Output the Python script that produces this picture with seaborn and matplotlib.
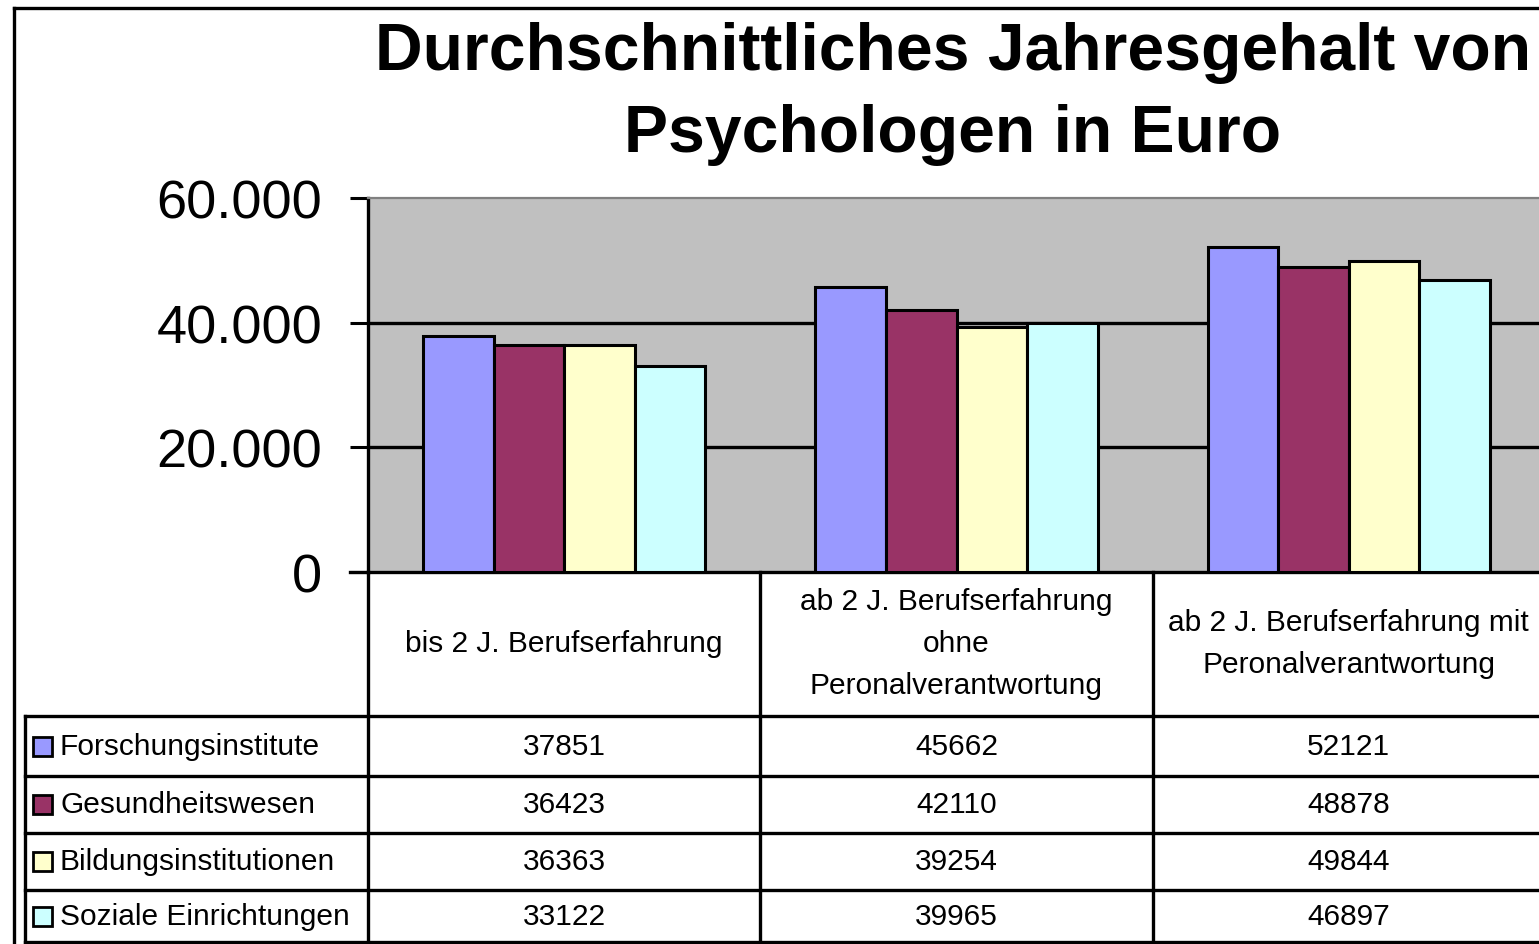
import numpy as np
import pandas as pd
import seaborn as sns
import matplotlib
matplotlib.use("Agg")
import matplotlib.pyplot as plt
from matplotlib.lines import Line2D
from matplotlib.patches import Rectangle

# ---------------- data ----------------
title = "Durchschnittliches Jahresgehalt von\nPsychologen in Euro"
categories = [
    "bis 2 J. Berufserfahrung",
    "ab 2 J. Berufserfahrung\nohne\nPeronalverantwortung",
    "ab 2 J. Berufserfahrung mit\nPeronalverantwortung",
]
series = ["Forschungsinstitute", "Gesundheitswesen", "Bildungsinstitutionen", "Soziale Einrichtungen"]
forschung = [37851, 45662, 52121]
gesundheit = [36423, 42110, 48878]
bildung = [36363, 39254, 49844]
sozial = [33122, 39965, 46897]
colors = ["#9999FF", "#993366", "#FFFFCC", "#CCFFFF"]
yticks = [0, 20000, 40000, 60000]
ytick_labels = ["0", "20.000", "40.000", "60.000"]

values = [forschung, gesundheit, bildung, sozial]
df = pd.DataFrame(
    [(c, s, v[i]) for s, v in zip(series, values) for i, c in enumerate(categories)],
    columns=["Kategorie", "Serie", "Wert"],
)

# ---------------- layout ----------------
W, H = 1539, 945
FONT = "Liberation Sans"
sns.set_theme(style="white")
plt.rcParams["font.family"] = [FONT, "DejaVu Sans"]
plt.rcParams["text.color"] = "black"
plt.rcParams["ytick.color"] = "black"
plt.rcParams["xtick.color"] = "black"
plt.rcParams["axes.labelcolor"] = "black"

fig = plt.figure(figsize=(W / 100, H / 100), dpi=100)
fig.patch.set_facecolor("white")

ax_left, ax_right, ax_top, ax_bot = 368, 1545, 199, 573
ax = fig.add_axes([ax_left / W, 1 - ax_bot / H, (ax_right - ax_left) / W, (ax_bot - ax_top) / H])
ax.set_facecolor("#C0C0C0")

sns.barplot(data=df, x="Kategorie", y="Wert", hue="Serie", order=categories, hue_order=series,
            palette=colors, saturation=1, width=0.72, gap=0, edgecolor="black", linewidth=2.2,
            errorbar=None, legend=False, ax=ax, zorder=3)

ax.set_xlim(-0.5, len(categories) - 0.5)
ax.set_ylim(yticks[0], yticks[-1])
ax.set_yticks(yticks)
ax.set_yticklabels(ytick_labels, fontsize=39, family=FONT, color="black")
ax.set_xticks([])
ax.set_xlabel("")
ax.set_ylabel("")
ax.tick_params(axis="y", direction="out", length=13, width=2.2, color="black", pad=20, left=True,
               labelcolor="black")
for yv in yticks[1:-1]:
    ax.axhline(yv, color="black", lw=2.4, zorder=1)

for side in ["left", "bottom"]:
    ax.spines[side].set_color("black")
    ax.spines[side].set_linewidth(2.4)
ax.spines["top"].set_color("#808080")
ax.spines["top"].set_linewidth(1.6)
ax.spines["right"].set_visible(False)


def px_line(x0, y0, x1, y1, lw=2.4, color="black"):
    fig.add_artist(Line2D([x0 / W, x1 / W], [1 - y0 / H, 1 - y1 / H], transform=fig.transFigure,
                          color=color, lw=lw, solid_capstyle="projecting"))


# ---------------- title ----------------
t_lines = title.split("\n")
for i, line in enumerate(t_lines):
    fig.text(953 / W, 1 - (70 + 82 * i) / H, line, ha="center", va="baseline",
             fontsize=47.5, fontweight="bold", family=FONT, color="black")

# ---------------- outer frame ----------------
px_line(14, 9, 14, 945)
px_line(14, 9, 1539, 9)

# ---------------- data table ----------------
cat_w = (ax_right - ax_left) / len(categories)
col_bounds = [ax_left + cat_w * i for i in range(len(categories) + 1)]
row_bounds = [717, 777, 834, 891, 943]
tab_left = 25
tfs = 21.5

# zero tick extension of x axis
px_line(350, ax_bot, ax_left, ax_bot)
# vertical grid
px_line(ax_left, ax_bot, ax_left, 945)
for xb in col_bounds[1:-1]:
    px_line(xb, ax_bot, xb, 945)
px_line(tab_left, row_bounds[0], tab_left, 945)
for yb in row_bounds:
    px_line(tab_left, yb, 1539, yb)

# header labels
for i, cat in enumerate(categories):
    cx = (col_bounds[i] + col_bounds[i + 1]) / 2
    lines = cat.split("\n")
    n = len(lines)
    for j, ln in enumerate(lines):
        cy = 644 + (j - (n - 1) / 2) * 42
        fig.text(cx / W, 1 - cy / H, ln, ha="center", va="center", fontsize=tfs, family=FONT,
                 color="black")

# rows
for r, (s, vals, col) in enumerate(zip(series, values, colors)):
    cy = (row_bounds[r] + row_bounds[r + 1]) / 2
    fig.add_artist(Rectangle((33 / W, 1 - (cy + 9.5) / H), 19 / W, 19 / H, transform=fig.transFigure,
                             facecolor=col, edgecolor="black", lw=2))
    fig.text(60 / W, 1 - cy / H, s, ha="left", va="center", fontsize=tfs, family=FONT, color="black")
    for i, v in enumerate(vals):
        cx = (col_bounds[i] + col_bounds[i + 1]) / 2
        fig.text(cx / W, 1 - cy / H, str(v), ha="center", va="center", fontsize=tfs, family=FONT,
                 color="black")

fig.savefig("out.png", dpi=100, facecolor="white")
